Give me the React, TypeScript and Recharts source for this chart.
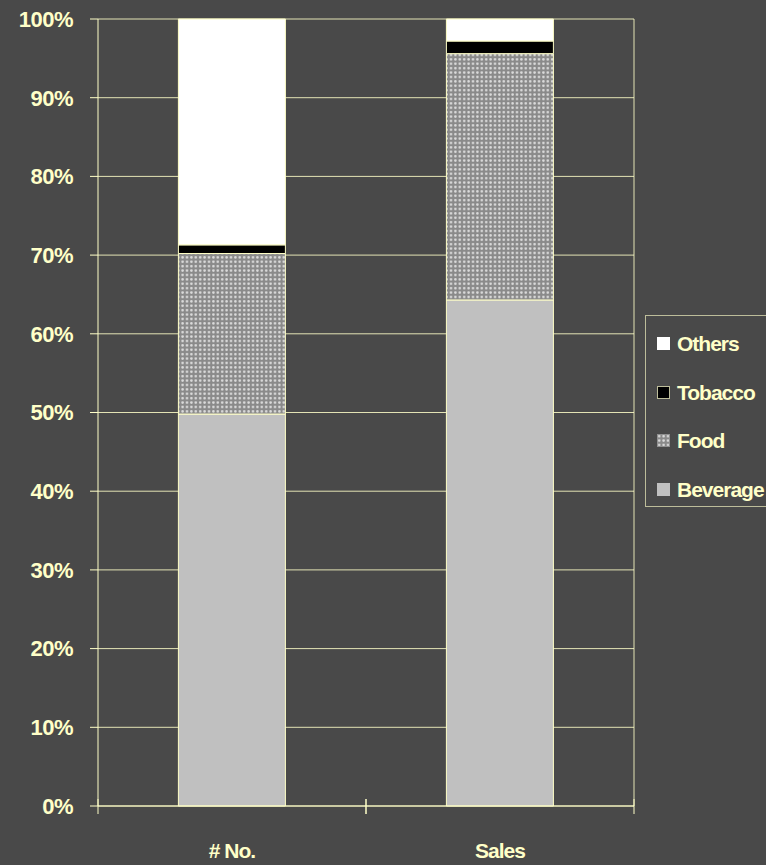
import React from 'react';
import { BarChart, Bar, XAxis, YAxis, CartesianGrid, Legend } from 'recharts';

const categories = ['# No.', 'Sales'];
const beverage = [49.8, 64.3];
const food = [20.4, 31.3];
const tobacco = [1.1, 1.6];
const others = [28.7, 2.8];
const yTicks = [0, 10, 20, 30, 40, 50, 60, 70, 80, 90, 100];

const data = categories.map((c, i) => ({
  name: c,
  Beverage: beverage[i],
  Food: food[i],
  Tobacco: tobacco[i],
  Others: others[i],
}));

const CREAM = '#ffffc8';
const BG = '#494949';
const FONT = '"Liberation Sans", Arial, sans-serif';

const legendItems = [
  { name: 'Others', fill: '#ffffff', stroke: '#ffffff' },
  { name: 'Tobacco', fill: '#000000', stroke: '#bdbd9a' },
  { name: 'Food', fill: 'food', stroke: '#909090' },
  { name: 'Beverage', fill: '#c0c0c0', stroke: '#c0c0c0' },
];

const XTick = (props: any) => {
  const { x, y, payload, width, visibleTicksCount } = props;
  const band = width / (visibleTicksCount || 2);
  return (
    <g>
      <line x1={x - band / 2} x2={x - band / 2} y1={y - 15} y2={y} stroke={CREAM} />
      <line x1={x + band / 2} x2={x + band / 2} y1={y - 15} y2={y} stroke={CREAM} />
      <text
        x={x}
        y={y + 38}
        textAnchor="middle"
        dominantBaseline="middle"
        fill={CREAM}
        fontFamily={FONT}
        fontWeight="bold"
        fontSize={21}
        letterSpacing={-1}
      >
        {payload.value}
      </text>
    </g>
  );
};

const LegendContent = () => (
  <div
    style={{
      position: 'absolute',
      left: 645,
      top: 315,
      width: 140,
      height: 192,
      border: '1.5px solid #bdbd9a',
      boxSizing: 'border-box',
      fontFamily: FONT,
      fontWeight: 'bold',
      fontSize: 21,
      letterSpacing: -1,
      color: CREAM,
    }}
  >
    {legendItems.map((it, i) => (
      <div
        key={it.name}
        style={{ position: 'absolute', left: 11, top: 16 + i * 48.7, height: 24, display: 'flex', alignItems: 'center' }}
      >
        <svg width={14} height={14} style={{ marginRight: 6 }}>
          <defs>
            <pattern id={`lp${i}`} patternUnits="userSpaceOnUse" width={4.4} height={4.4}>
              <rect width={4.4} height={4.4} fill="#8a8a8a" />
              <circle cx={2.2} cy={2.2} r={1.3} fill="#dcdcdc" />
            </pattern>
          </defs>
          <rect
            x={0.5}
            y={0.5}
            width={12}
            height={12}
            fill={it.fill === 'food' ? `url(#lp${i})` : it.fill}
            stroke={it.stroke}
          />
        </svg>
        <span>{it.name}</span>
      </div>
    ))}
  </div>
);

export default function App() {
  return (
    <div style={{ position: 'absolute', left: 0, top: 0, width: 766, height: 865, background: BG, overflow: 'hidden' }}>
      <BarChart
        width={766}
        height={865}
        data={data}
        margin={{ top: 19, right: 132, bottom: 0, left: 0 }}
        barCategoryGap="30%"
      >
        <defs>
          <pattern id="foodPat" patternUnits="userSpaceOnUse" width={4.4} height={4.4}>
            <rect width={4.4} height={4.4} fill="#8a8a8a" />
            <circle cx={2.2} cy={2.2} r={1.3} fill="#dcdcdc" />
          </pattern>
        </defs>
        <CartesianGrid
          stroke={CREAM}
          strokeOpacity={0.85}
          verticalCoordinatesGenerator={({ offset }: any) => [offset.left + offset.width]}
        />
        <XAxis
          dataKey="name"
          height={59}
          axisLine={{ stroke: CREAM }}
          tickLine={false}
          tick={<XTick />}
          interval={0}
        />
        <YAxis
          width={98}
          domain={[0, 100]}
          ticks={yTicks}
          tickSize={8}
          tickMargin={17}
          axisLine={{ stroke: CREAM }}
          tickLine={{ stroke: CREAM }}
          tickFormatter={(v: number) => `${v}%`}
          tick={{ fill: CREAM, fontFamily: FONT, fontWeight: 'bold', fontSize: 22, letterSpacing: -0.5 }}
          interval={0}
        />
        <Legend content={<LegendContent />} wrapperStyle={{ left: 0, top: 0, width: 0, height: 0 }} />
        <Bar dataKey="Beverage" stackId="a" fill="#c0c0c0" stroke={CREAM} strokeWidth={1} isAnimationActive={false} />
        <Bar dataKey="Food" stackId="a" fill="url(#foodPat)" stroke={CREAM} strokeWidth={1} isAnimationActive={false} />
        <Bar dataKey="Tobacco" stackId="a" fill="#000000" stroke={CREAM} strokeWidth={1} isAnimationActive={false} />
        <Bar dataKey="Others" stackId="a" fill="#ffffff" stroke={CREAM} strokeWidth={1} isAnimationActive={false} />
      </BarChart>
    </div>
  );
}
